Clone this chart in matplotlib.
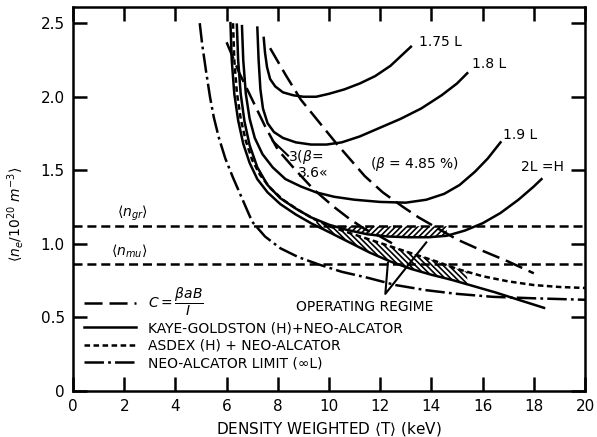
import matplotlib
matplotlib.use("Agg")
import matplotlib.pyplot as plt
import numpy as np

plt.rcParams["font.family"] = ["DejaVu Sans"]
plt.rcParams["lines.scale_dashes"] = False
plt.rcParams["hatch.linewidth"] = 1.2

# density limits
N_GR = 1.12
N_MU = 0.86

# Kaye-Goldston (H) + neo-Alcator contours
kg_175_x = [7.45, 7.5, 7.58, 7.7, 7.9, 8.2, 8.6, 9.0, 9.5, 10.0, 10.6, 11.2, 11.8, 12.4, 13.2]
kg_175_y = [2.40, 2.30, 2.20, 2.12, 2.07, 2.03, 2.01, 2.00, 2.00, 2.02, 2.05, 2.09, 2.14, 2.21, 2.34]
kg_18_x = [7.2, 7.25, 7.32, 7.42, 7.6, 7.85, 8.2, 8.7, 9.3, 9.9, 10.5, 11.2, 12.0, 12.8,
           13.6, 14.4, 15.0, 15.4]
kg_18_y = [2.47, 2.25, 2.05, 1.92, 1.82, 1.76, 1.72, 1.69, 1.675, 1.675, 1.69, 1.73, 1.79,
           1.85, 1.92, 2.01, 2.09, 2.16]
kg_19_x = [6.6, 6.65, 6.75, 6.9, 7.1, 7.4, 7.8, 8.3, 8.9, 9.5, 10.2, 11.0, 12.0, 13.0,
           13.8, 14.5, 15.1, 15.7, 16.2, 16.7]
kg_19_y = [2.48, 2.25, 2.02, 1.85, 1.72, 1.61, 1.52, 1.44, 1.39, 1.35, 1.32, 1.30, 1.285,
           1.28, 1.30, 1.34, 1.40, 1.49, 1.58, 1.69]
kg_2h_x = [6.4, 6.45, 6.55, 6.7, 6.9, 7.2, 7.6, 8.1, 8.7, 9.3, 10.0, 10.7, 11.5, 12.3,
           13.1, 13.9, 14.6, 15.3, 16.0, 16.7, 17.4, 18.0, 18.3]
kg_2h_y = [2.49, 2.25, 2.02, 1.83, 1.67, 1.52, 1.40, 1.31, 1.24, 1.18, 1.13, 1.095, 1.065,
           1.05, 1.045, 1.045, 1.055, 1.09, 1.14, 1.21, 1.30, 1.39, 1.44]
kg_low_x = [6.15, 6.2, 6.3, 6.45, 6.65, 6.9, 7.2, 7.6, 8.1, 8.7, 9.3, 10.0, 10.8, 11.6,
            12.4, 13.2, 14.0, 14.8, 15.6, 16.5, 17.4, 18.4]
kg_low_y = [2.50, 2.25, 2.02, 1.84, 1.68, 1.55, 1.44, 1.35, 1.27, 1.20, 1.14, 1.08, 1.01,
            0.94, 0.88, 0.83, 0.79, 0.755, 0.715, 0.67, 0.62, 0.565]

# ASDEX (H) + neo-Alcator
asdex_x = [6.25, 6.3, 6.4, 6.55, 6.75, 7.0, 7.3, 7.7, 8.2, 8.8, 9.4, 10.0, 10.7, 11.4,
           12.1, 12.8, 13.5, 14.2, 15.0, 16.0, 17.0, 18.0, 19.0, 20.0]
asdex_y = [2.50, 2.25, 2.03, 1.85, 1.70, 1.57, 1.47, 1.38, 1.30, 1.23, 1.17, 1.12, 1.08,
           1.04, 1.00, 0.96, 0.92, 0.88, 0.83, 0.78, 0.745, 0.72, 0.707, 0.70]

# neo-Alcator limit
neo_x = [4.95, 5.05, 5.2, 5.35, 5.5, 5.7, 5.95, 6.25, 6.6, 7.0, 7.5, 8.1, 8.8, 9.6, 10.5,
         11.5, 12.6, 13.8, 15.0, 16.4, 18.0, 20.0]
neo_y = [2.50, 2.35, 2.17, 2.00, 1.86, 1.72, 1.58, 1.45, 1.31, 1.15, 1.05, 0.97, 0.91,
         0.86, 0.81, 0.77, 0.72, 0.685, 0.66, 0.64, 0.63, 0.62]

# C = beta a B / I
c_hi_x = [7.7, 8.3, 8.9, 9.6, 10.3, 10.9, 11.4, 12.1, 12.9, 13.5, 14.3, 15.0, 15.9, 17.0, 18.0]
c_hi_y = [2.33, 2.15, 1.98, 1.83, 1.68, 1.56, 1.46, 1.35, 1.25, 1.18, 1.10, 1.03, 0.96, 0.88, 0.80]
c_lo_x = [6.0, 6.5, 7.0, 7.5, 8.0, 8.7, 9.4, 10.2, 10.8, 11.4, 12.0, 12.5]
c_lo_y = [2.37, 2.16, 1.98, 1.80, 1.64, 1.50, 1.37, 1.25, 1.17, 1.10, 1.05, 1.00]

fig = plt.figure(figsize=(5.97, 4.37), dpi=100)
ax = fig.add_axes([0.1223, 0.1053, 0.8576, 0.8787])

LW = 1.8
long_dash = (0, (13, 5))
short_dash = (0, (4, 2.5))
dash_dot = (0, (14, 3, 2, 3))

# operating regime hatching
xf = np.linspace(9.5, 15.4, 300)
lo = np.interp(xf, kg_low_x, kg_low_y)
hi = np.minimum(np.interp(xf, asdex_x, asdex_y), np.interp(xf, kg_2h_x, kg_2h_y))
ax.fill_between(xf, lo, hi, facecolor="white", edgecolor="black",
                hatch="\\\\\\\\\\\\", linewidth=0)
xt = np.linspace(9.9, 14.6, 300)
yt = np.interp(xt, kg_2h_x, kg_2h_y)
ax.fill_between(xt, yt, np.maximum(yt, N_GR), facecolor="white",
                edgecolor="black", hatch="//////", linewidth=0)

ax.axhline(N_GR, color="black", lw=LW, ls=(0, (6.5, 3.5)))
ax.axhline(N_MU, color="black", lw=LW, ls=(0, (6.5, 3.5)))

ax.plot(c_hi_x, c_hi_y, color="black", lw=LW, ls=long_dash,
        label=r"$C = \dfrac{\beta a B}{I}$")
ax.plot(c_lo_x, c_lo_y, color="black", lw=LW, ls=long_dash)
ax.plot(kg_2h_x, kg_2h_y, color="black", lw=LW,
        label="KAYE-GOLDSTON (H)+NEO-ALCATOR")
for xs, ys in [(kg_175_x, kg_175_y), (kg_18_x, kg_18_y),
               (kg_19_x, kg_19_y), (kg_low_x, kg_low_y)]:
    ax.plot(xs, ys, color="black", lw=LW)
ax.plot(asdex_x, asdex_y, color="black", lw=LW, ls=short_dash,
        label="ASDEX (H) + NEO-ALCATOR")
ax.plot(neo_x, neo_y, color="black", lw=LW, ls=dash_dot,
        label="NEO-ALCATOR LIMIT (∞L)")

# curve labels
fs = 10
ax.text(13.5, 2.37, "1.75 L", fontsize=fs, va="center")
ax.text(15.6, 2.22, "1.8 L", fontsize=fs, va="center")
ax.text(16.8, 1.74, "1.9 L", fontsize=fs, va="center")
ax.text(17.5, 1.52, "2L =H", fontsize=fs, va="center")
ax.text(8.4, 1.59, r"3($\beta$=", fontsize=fs, va="center")
ax.text(8.8, 1.48, "3.6«", fontsize=fs, va="center")
ax.text(11.6, 1.54, r"($\beta$ = 4.85 %)", fontsize=fs, va="center")
ax.plot([7.8, 8.4], [1.70, 1.60], color="black", lw=1.5)
ax.text(1.7, 1.21, r"$\langle n_{gr}\rangle$", fontsize=fs, va="center")
ax.text(1.5, 0.95, r"$\langle n_{mu}\rangle$", fontsize=fs, va="center")

ax.text(11.4, 0.57, "OPERATING REGIME", fontsize=fs, ha="center", va="center")
ax.plot([12.3, 12.2, 13.8], [0.87, 0.66, 1.01], color="black", lw=1.5)

ax.set_xlim(0, 20)
ax.set_ylim(0, 2.61)
ax.set_xticks(np.arange(0, 21, 2))
ax.set_yticks([0, 0.5, 1.0, 1.5, 2.0, 2.5])
ax.set_yticklabels(["0", "0.5", "1.0", "1.5", "2.0", "2.5"])
ax.tick_params(direction="in", length=10, width=1.8, top=True, right=True,
               labelsize=11, pad=6)
for sp in ax.spines.values():
    sp.set_linewidth(1.8)

ax.set_xlabel(r"DENSITY WEIGHTED $\langle$T$\rangle$ (keV)", fontsize=11)
ax.set_ylabel(r"$\langle n_e/10^{20}\ m^{-3}\rangle$", fontsize=10)
ax.yaxis.set_label_coords(-0.092, 0.46)

leg = ax.legend(loc="lower left", bbox_to_anchor=(0.01, 0.04), frameon=False,
                fontsize=10, handlelength=3.8, labelspacing=0.25,
                handletextpad=0.8, borderaxespad=0)

fig.savefig("out.png", dpi=100)
